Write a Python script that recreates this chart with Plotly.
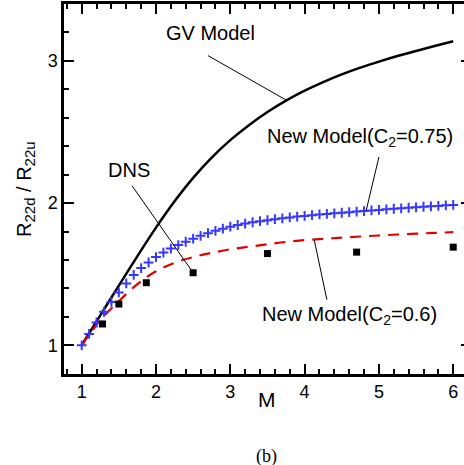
import plotly.graph_objects as go

# Mach number grids
m_coarse = [1.0, 1.25, 1.5, 1.75, 2.0, 2.25, 2.5, 2.75, 3.0, 3.25, 3.5,
            3.75, 4.0, 4.25, 4.5, 4.75, 5.0, 5.25, 5.5, 5.75, 6.0]
m_fine = [1.0, 1.1, 1.2, 1.3, 1.4, 1.5, 1.6, 1.7, 1.8, 1.9, 2.0,
          2.1, 2.2, 2.3, 2.4, 2.5, 2.6, 2.7, 2.8, 2.9, 3.0,
          3.1, 3.2, 3.3, 3.4, 3.5, 3.6, 3.7, 3.8, 3.9, 4.0,
          4.1, 4.2, 4.3, 4.4, 4.5, 4.6, 4.7, 4.8, 4.9, 5.0,
          5.1, 5.2, 5.3, 5.4, 5.5, 5.6, 5.7, 5.8, 5.9, 6.0]

# GV model ratio R22d/R22u
gv_model = [1.00, 1.21, 1.42, 1.6275, 1.8275, 2.0125, 2.1775, 2.32, 2.4425, 2.5475, 2.64,
            2.72, 2.79, 2.851, 2.905, 2.9525, 2.995, 3.034, 3.07, 3.1045, 3.1375]

# New model, C2 = 0.75
new_075 = [1.000, 1.080, 1.160, 1.235, 1.305, 1.372, 1.435, 1.495, 1.543, 1.582, 1.620,
           1.652, 1.680, 1.705, 1.728, 1.750, 1.770, 1.788, 1.805, 1.820, 1.834,
           1.846, 1.856, 1.865, 1.873, 1.880, 1.887, 1.893, 1.899, 1.905, 1.910,
           1.915, 1.920, 1.924, 1.928, 1.932, 1.936, 1.940, 1.944, 1.948, 1.952,
           1.956, 1.960, 1.963, 1.967, 1.970, 1.974, 1.977, 1.980, 1.984, 1.987]

# New model, C2 = 0.6
new_06 = [1.00, 1.176, 1.31, 1.43, 1.52, 1.58, 1.62, 1.65, 1.675, 1.693, 1.71,
          1.727, 1.74, 1.748, 1.757, 1.765, 1.772, 1.779, 1.785, 1.790, 1.796]

# DNS data
dns_m = [1.28, 1.5, 1.87, 2.5, 3.5, 4.7, 6.0]
dns_r = [1.15, 1.29, 1.44, 1.51, 1.645, 1.655, 1.69]

FONT = "Liberation Sans"
X_RANGE = [0.762, 6.145]
Y_RANGE = [0.798, 3.40]

fig = go.Figure()

fig.add_trace(go.Scatter(x=m_coarse, y=gv_model, mode="lines",
                         line=dict(color="black", width=2.5, shape="spline", smoothing=0.8),
                         showlegend=False))
fig.add_trace(go.Scatter(x=m_coarse, y=new_06, mode="lines",
                         line=dict(color="#e00000", width=2.2, dash="11px,8px", shape="spline"),
                         showlegend=False))
fig.add_trace(go.Scatter(x=m_fine, y=new_075, mode="markers",
                         marker=dict(symbol="cross-thin", size=7,
                                     line=dict(color="rgb(55,55,255)", width=2)),
                         showlegend=False))
fig.add_trace(go.Scatter(x=dns_m, y=dns_r, mode="markers",
                         marker=dict(symbol="square", size=7, color="black"),
                         showlegend=False))
# carrier for the right-hand tick axis
fig.add_trace(go.Scatter(x=[1], y=[1], yaxis="y2", mode="markers",
                         marker=dict(opacity=0), hoverinfo="skip", showlegend=False))

# leader lines from labels to curves
leaders = [
    (2.70, 3.037, 3.75, 2.725),
    (5.00, 2.324, 4.83, 1.950),
    (1.68, 2.120, 2.50, 1.510),
    (4.13, 1.740, 4.30, 1.320),
]
for x0, y0, x1, y1 in leaders:
    fig.add_shape(type="line", x0=x0, y0=y0, x1=x1, y1=y1, xref="x", yref="y",
                  line=dict(color="black", width=1))

lab_font = dict(family=FONT, size=20, color="black")
for text, x, y in [
    ("GV Model", 2.73, 3.196),
    ("New Model(C<sub>2</sub>=0.75)", 4.74, 2.46),
    ("DNS", 1.64, 2.233),
    ("New Model(C<sub>2</sub>=0.6)", 4.61, 1.209),
]:
    fig.add_annotation(x=x, y=y, xref="x", yref="y", text=text, showarrow=False,
                       font=lab_font, xanchor="center", yanchor="middle")

fig.add_annotation(x=3.49, y=-0.07, xref="x", yref="paper", text="M", showarrow=False,
                   font=dict(family=FONT, size=21, color="black"),
                   xanchor="center", yanchor="middle")
fig.add_annotation(x=-0.0975, y=0.5, xref="paper", yref="paper",
                   text="R<sub><span style='font-size:15px'>22d</span></sub> / "
                        "R<sub><span style='font-size:15px'>22u</span></sub>",
                   textangle=-90, showarrow=False,
                   font=dict(family=FONT, size=20, color="black"),
                   xanchor="center", yanchor="middle")
fig.add_annotation(x=3.49, y=-0.222, xref="x", yref="paper", text="(b)", showarrow=False,
                   font=dict(family="Liberation Serif", size=18, color="black"),
                   xanchor="center", yanchor="middle")

fig.update_layout(
    width=464, height=465,
    margin=dict(l=64, r=0, t=4, b=91),
    paper_bgcolor="white", plot_bgcolor="white",
    font=dict(family=FONT, size=18, color="black"),
    xaxis=dict(range=X_RANGE, showline=True, linecolor="black", linewidth=2.5,
               mirror="ticks", ticks="inside", ticklen=10, tickwidth=2, tickcolor="black",
               tick0=1, dtick=1, showgrid=False, zeroline=False,
               tickfont=dict(family=FONT, size=18, color="black"),
               minor=dict(ticks="inside", ticklen=5, tickwidth=1.5, tickcolor="black",
                          dtick=0.2, tick0=1, showgrid=False)),
    yaxis=dict(range=Y_RANGE, showline=True, linecolor="black", linewidth=2.5,
               ticks="inside", ticklen=10, tickwidth=2, tickcolor="black",
               tick0=1, dtick=1, showgrid=False, zeroline=False,
               tickfont=dict(family=FONT, size=18, color="black"),
               minor=dict(ticks="inside", ticklen=5, tickwidth=1.5, tickcolor="black",
                          dtick=0.2, tick0=1, showgrid=False)),
    yaxis2=dict(range=Y_RANGE, overlaying="y", side="right", anchor="x",
                showline=False, ticks="inside", ticklen=3, tickwidth=2, tickcolor="black",
                tick0=1, dtick=1, showticklabels=False, showgrid=False, zeroline=False),
)

fig.write_html("out.html")
